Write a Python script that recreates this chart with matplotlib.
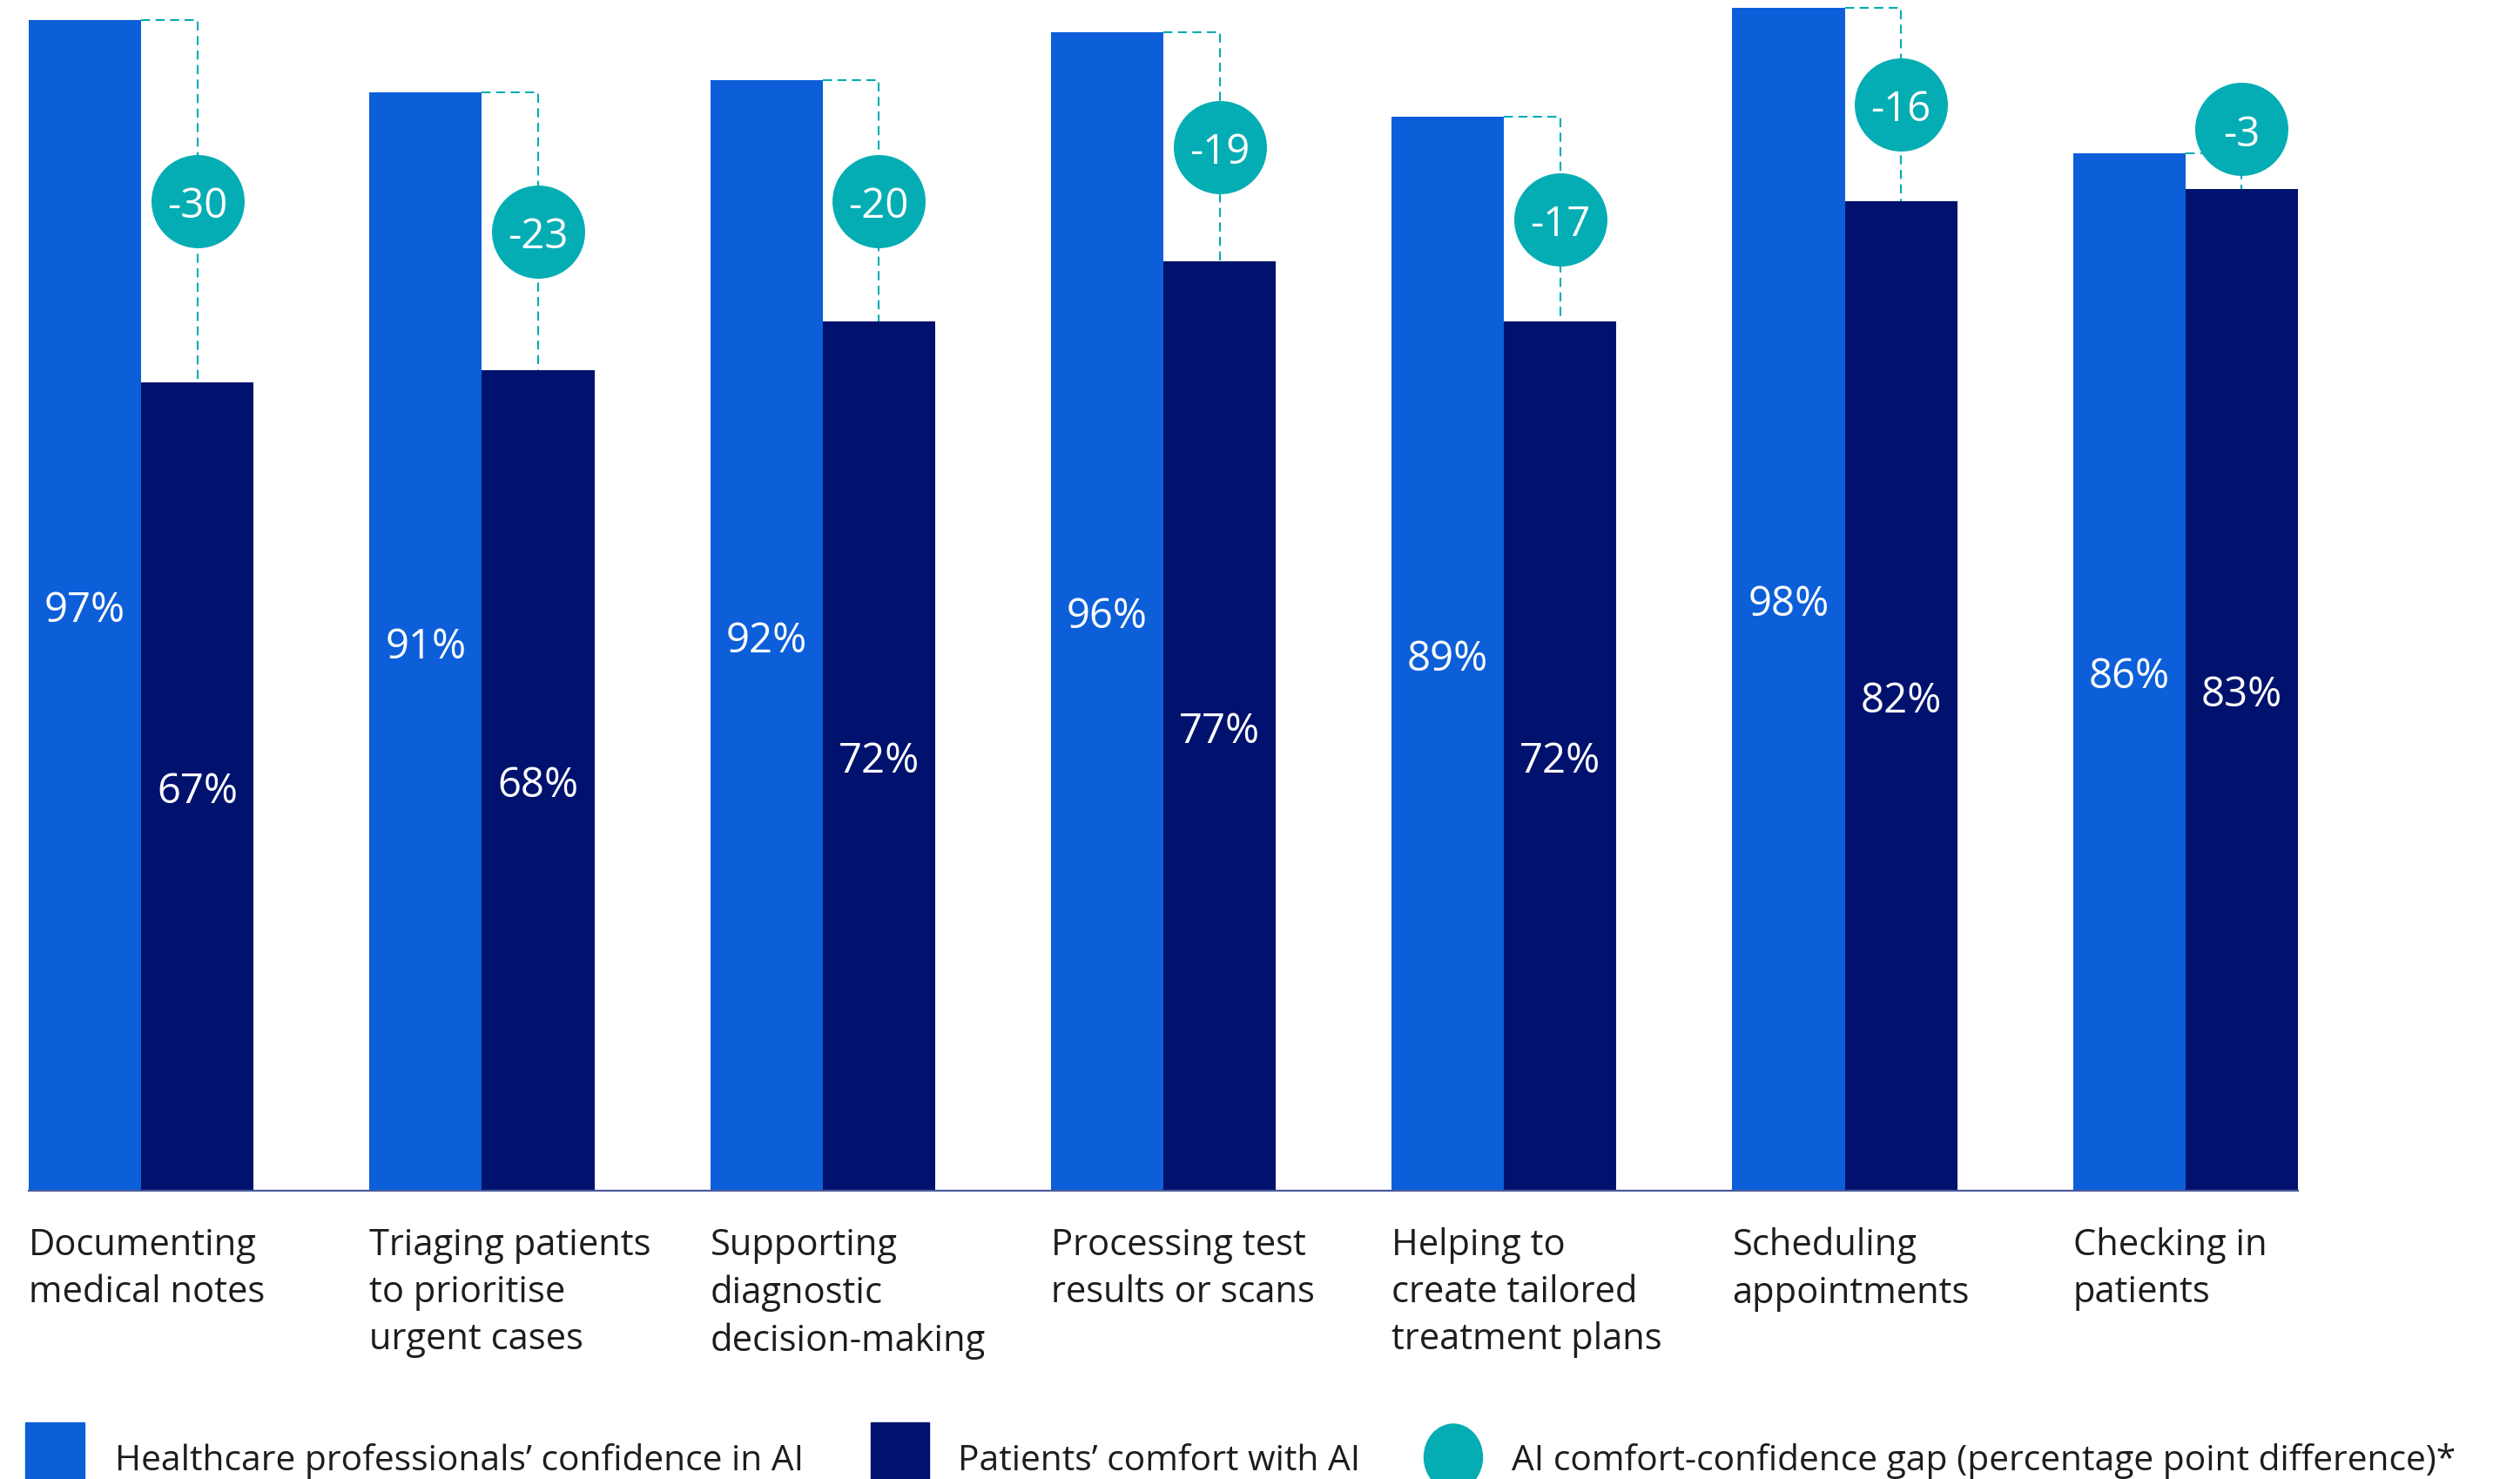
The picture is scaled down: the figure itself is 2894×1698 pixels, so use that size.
import numpy as np
import matplotlib.pyplot as plt
from matplotlib.patches import Rectangle, Ellipse
from matplotlib.transforms import blended_transform_factory

plt.rcParams['font.family'] = ['Open Sans', 'DejaVu Sans']

categories = ["Documenting\nmedical notes",
              "Triaging patients\nto prioritise\nurgent cases",
              "Supporting\ndiagnostic\ndecision-making",
              "Processing test\nresults or scans",
              "Helping to\ncreate tailored\ntreatment plans",
              "Scheduling\nappointments",
              "Checking in\npatients"]
professionals = [97, 91, 92, 96, 89, 98, 86]
patients = [67, 68, 72, 77, 72, 82, 83]
gaps = [-30, -23, -20, -19, -17, -16, -3]

legend_labels = ["Healthcare professionals\u2019 confidence in AI",
                 "Patients\u2019 comfort with AI",
                 "AI comfort-confidence gap (percentage point difference)*"]

BLUE = '#0c5fd8'
NAVY = '#00126e'
TEAL = '#04adb3'
TEXT = '#1d1d1b'

W, H = 2894, 1699
fig = plt.figure(figsize=(W / 100, H / 100), dpi=100)
fig.patch.set_facecolor('white')

# axes box in pixel terms
left, right, base = 33, 2639, 1367.7
ax = fig.add_axes([left / W, 1 - base / H, (right - left) / W, base / H])

x = np.arange(len(categories))
w = 0.33
ax.bar(x - w / 2, professionals, w, color=BLUE, zorder=2)
ax.bar(x + w / 2, patients, w, color=NAVY, zorder=2)
ax.set_xlim(-w, len(categories) - 1 + w)
ax.set_ylim(0, 98.75)

for s in ['top', 'left', 'right']:
    ax.spines[s].set_visible(False)
ax.spines['bottom'].set_color('#4b5a9a')
ax.spines['bottom'].set_linewidth(1.6)
ax.set_xticks([])
ax.set_yticks([])

# value labels sit at mid-height of each bar
for i in range(len(categories)):
    ax.text(x[i] - w / 2, professionals[i] / 2, f"{professionals[i]}%", color='white',
            fontsize=34, ha='center', va='center_baseline', zorder=3)
    ax.text(x[i] + w / 2, patients[i] / 2, f"{patients[i]}%", color='white',
            fontsize=34, ha='center', va='center_baseline', zorder=3)

# gap markers: dashed bracket from the blue top to the navy top, bubble in between
r = 3.87
for i in range(len(categories)):
    cx = x[i] + w / 2
    ax.plot([x[i], cx, cx], [professionals[i], professionals[i], patients[i]],
            color=TEAL, lw=1.5, ls=(0, (5, 3)), zorder=3, clip_on=False)
    cy = max((professionals[i] + patients[i]) / 2, patients[i] + r + 1.1)
    ax.scatter([cx], [cy], s=77 ** 2, color=TEAL, zorder=4, clip_on=False, linewidths=0)
    ax.text(cx, cy, str(gaps[i]), color='white', fontsize=34, ha='center',
            va='center_baseline', zorder=5)

# category labels under the axis, left-aligned with the blue bars
trans = blended_transform_factory(ax.transData, fig.transFigure)
for i, lab in enumerate(categories):
    ax.text(x[i] - w, 1 - 1409 / H, lab, transform=trans, fontsize=30, color=TEXT,
            ha='left', va='top', linespacing=1.38, clip_on=False)

# legend along the bottom edge
fig.patches.append(Rectangle((29 / W, 1 - 1702 / H), 68 / W, 68 / H,
                             transform=fig.transFigure, color=BLUE))
fig.patches.append(Rectangle((1000 / W, 1 - 1702 / H), 67 / W, 68 / H,
                             transform=fig.transFigure, color=NAVY))
fig.patches.append(Ellipse((1669 / W, 1 - 1674 / H), 67 / W, 76 / H,
                           transform=fig.transFigure, color=TEAL))
for xp, lab in zip([132, 1100, 1736], legend_labels):
    fig.text(xp / W, 1 - 1688 / H, lab, fontsize=29.3, color=TEXT, ha='left', va='baseline')

fig.savefig('out.png', dpi=100, facecolor='white')
